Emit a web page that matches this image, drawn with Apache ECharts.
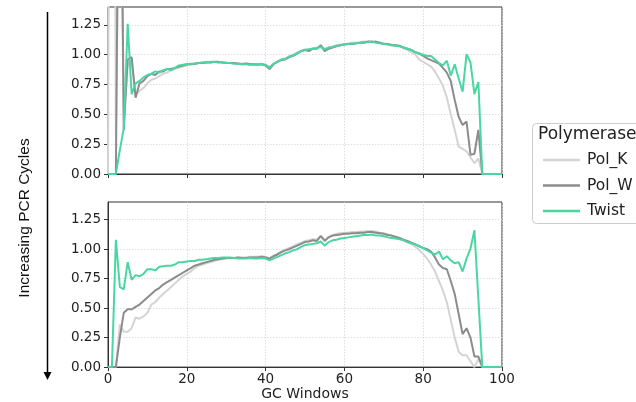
<!DOCTYPE html>
<html><head><meta charset="utf-8">
<script src="https://cdn.jsdelivr.net/npm/echarts@6/dist/echarts.min.js"></script>
<style>html,body{margin:0;padding:0;background:#fff}#c{width:636px;height:402px}</style>
</head><body><div id="c"></div>
<script>
// GC window positions 0..100 (one value per window)
const gcWindows = [0,1,2,3,4,5,6,7,8,9,10,11,12,13,14,15,16,17,18,19,20,21,22,23,24,25,26,27,28,29,30,31,32,33,34,35,36,37,38,39,40,41,42,43,44,45,46,47,48,49,50,51,52,53,54,55,56,57,58,59,60,61,62,63,64,65,66,67,68,69,70,71,72,73,74,75,76,77,78,79,80,81,82,83,84,85,86,87,88,89,90,91,92,93,94,95,96,97,98,99,100];
const xTicks = [0,20,40,60,80,100];
const yTicks = [0,0.25,0.5,0.75,1.0,1.25];
const seriesNames = ['Pol_K','Pol_W','Twist'];

// Top panel (fewer PCR cycles)
const topPolK = [0,9,0.3,3,0.45,0.92,0.95,0.66,0.70,0.72,
 0.76,0.79,0.80,0.82,0.84,0.85,0.87,0.88,0.89,0.90,
 0.91,0.92,0.925,0.93,0.935,0.94,0.935,0.94,0.935,0.94,
 0.935,0.93,0.93,0.93,0.925,0.93,0.925,0.92,0.92,0.925,
 0.915,0.90,0.92,0.945,0.96,0.97,0.985,1.00,1.02,1.035,
 1.045,1.04,1.055,1.06,1.07,1.05,1.06,1.07,1.08,1.085,
 1.09,1.095,1.10,1.10,1.105,1.11,1.11,1.115,1.105,1.10,
 1.095,1.09,1.085,1.075,1.07,1.055,1.04,1.02,1.00,0.96,
 0.94,0.92,0.90,0.86,0.80,0.74,0.64,0.50,0.37,0.23,
 0.21,0.19,0.14,0.09,0.13,0,0,0,0,0,0];
const topPolW = [0,0,0,4.0,0.37,0.96,0.98,0.64,0.76,0.78,
 0.82,0.84,0.83,0.86,0.86,0.88,0.88,0.89,0.90,0.91,
 0.92,0.92,0.925,0.93,0.93,0.935,0.935,0.94,0.94,0.935,
 0.93,0.93,0.93,0.925,0.92,0.925,0.92,0.92,0.915,0.92,
 0.91,0.88,0.92,0.94,0.955,0.96,0.98,0.99,1.01,1.03,
 1.04,1.03,1.05,1.05,1.08,1.03,1.05,1.06,1.07,1.08,
 1.085,1.09,1.09,1.095,1.10,1.10,1.11,1.105,1.11,1.10,
 1.09,1.09,1.08,1.08,1.075,1.06,1.05,1.04,1.02,1.01,
 0.99,0.97,0.955,0.94,0.925,0.89,0.85,0.78,0.62,0.48,
 0.41,0.44,0.16,0.17,0.37,0,0,0,0,0,0];
const topTwist = [0,0,0,0.2,0.38,1.26,0.67,0.76,0.78,0.81,
 0.83,0.84,0.86,0.85,0.87,0.88,0.87,0.89,0.91,0.915,
 0.92,0.925,0.925,0.93,0.935,0.935,0.94,0.94,0.935,0.935,
 0.93,0.93,0.925,0.925,0.92,0.92,0.915,0.915,0.92,0.92,
 0.915,0.89,0.925,0.94,0.96,0.965,0.985,0.995,1.01,1.03,
 1.04,1.045,1.05,1.055,1.065,1.045,1.06,1.065,1.075,1.08,
 1.085,1.09,1.095,1.095,1.10,1.105,1.105,1.11,1.10,1.095,
 1.09,1.085,1.08,1.075,1.07,1.06,1.05,1.04,1.02,1.01,
 1.00,0.99,0.99,0.96,0.93,0.91,0.95,0.825,0.92,0.80,
 0.69,1.005,0.935,0.67,0.77,0,0,0,0,0,0];

// Bottom panel (more PCR cycles)
const botPolK = [0,0,0,0.36,0.30,0.30,0.33,0.42,0.41,0.43,
 0.46,0.53,0.55,0.59,0.62,0.65,0.68,0.71,0.74,0.77,
 0.79,0.81,0.84,0.86,0.87,0.88,0.89,0.90,0.91,0.915,
 0.92,0.925,0.925,0.93,0.93,0.93,0.935,0.935,0.935,0.94,
 0.935,0.925,0.945,0.96,0.98,0.995,1.01,1.025,1.04,1.055,
 1.07,1.075,1.085,1.08,1.115,1.08,1.105,1.12,1.13,1.135,
 1.14,1.14,1.145,1.145,1.15,1.15,1.155,1.155,1.15,1.14,
 1.135,1.125,1.115,1.10,1.09,1.075,1.06,1.045,1.02,0.99,
 0.96,0.92,0.87,0.81,0.73,0.65,0.55,0.40,0.25,0.13,
 0.10,0.10,0.05,0.0,0.07,0,0,0,0,0,0];
const botPolW = [0,0,0,0.25,0.46,0.49,0.49,0.51,0.53,0.56,
 0.59,0.62,0.65,0.67,0.70,0.72,0.74,0.76,0.78,0.80,
 0.82,0.84,0.86,0.87,0.88,0.89,0.90,0.91,0.915,0.92,
 0.925,0.925,0.925,0.93,0.925,0.925,0.93,0.93,0.93,0.935,
 0.93,0.92,0.94,0.955,0.975,0.99,1.00,1.015,1.03,1.045,
 1.06,1.065,1.075,1.07,1.11,1.07,1.10,1.115,1.12,1.125,
 1.13,1.13,1.135,1.135,1.14,1.14,1.145,1.145,1.14,1.135,
 1.13,1.12,1.115,1.105,1.095,1.08,1.07,1.055,1.04,1.025,
 1.01,1.00,0.98,0.93,0.87,0.84,0.83,0.73,0.62,0.45,
 0.28,0.33,0.25,0.09,0.09,0,0,0,0,0,0];
const botTwist = [0,0,1.08,0.68,0.66,0.89,0.74,0.78,0.77,0.79,
 0.83,0.83,0.82,0.85,0.855,0.86,0.86,0.87,0.89,0.89,
 0.895,0.90,0.90,0.91,0.91,0.915,0.92,0.925,0.925,0.93,
 0.93,0.93,0.925,0.92,0.92,0.92,0.925,0.92,0.92,0.925,
 0.92,0.905,0.92,0.935,0.95,0.965,0.975,0.99,1.00,1.02,
 1.035,1.04,1.045,1.05,1.065,1.03,1.06,1.075,1.08,1.09,
 1.095,1.10,1.105,1.11,1.115,1.12,1.12,1.125,1.115,1.115,
 1.11,1.10,1.095,1.09,1.085,1.075,1.06,1.05,1.04,1.025,
 1.01,0.99,0.97,0.955,0.98,0.915,0.94,0.905,0.88,0.89,
 0.81,0.92,1.005,1.16,0.58,0,0,0,0,0,0];

const colors = {Pol_K:'#d4d4d4', Pol_W:'#8c8c8c', Twist:'#4ad6a3'};
const tickFont = {fontFamily:'DejaVu Sans', fontSize:13.5, color:'#222'};

function pairs(arr){ return gcWindows.map((x,i)=>[x, arr[i]]); }

function xAxisCfg(idx, showLabels){
  return {
    type:'value', gridIndex:idx, min:0, max:100, interval:20,
    axisLine:{show:true, lineStyle:{color:'#333', width:1}},
    axisTick:{show:true, length:4, lineStyle:{color:'#333'}},
    axisLabel: Object.assign({show:showLabels, margin:5, formatter:v=>String(v)}, tickFont),
    splitLine:{show:true, lineStyle:{color:'#d6d6d6', type:[1.5,1.5], width:0.8}},
    name: showLabels ? 'GC Windows' : '', nameLocation:'middle', nameGap:19,
    nameTextStyle:{fontFamily:'DejaVu Sans', fontSize:14, color:'#222'}
  };
}
function yAxisCfg(idx){
  return {
    type:'value', gridIndex:idx, min:0, max:1.4, interval:0.25,
    axisLine:{show:true, lineStyle:{color:'#333', width:1}},
    axisTick:{show:true, length:4, lineStyle:{color:'#333'}, customValues:yTicks},
    axisLabel: Object.assign({margin:7, customValues:yTicks, formatter:v=>v.toFixed(2)}, tickFont),
    splitLine:{show:true, lineStyle:{color:'#d6d6d6', type:[1.5,1.5], width:0.8}}
  };
}
function lineSeries(name, arr, idx){
  return {
    name, type:'line', xAxisIndex:idx, yAxisIndex:idx, data:pairs(arr),
    symbol:'none', showSymbol:false, clip:true, animation:false,
    lineStyle:{color:colors[name], width:2}, itemStyle:{color:colors[name]}
  };
}

const chart = echarts.init(document.getElementById('c'), null, {renderer:'canvas'});
chart.setOption({
  animation:false,
  backgroundColor:'#fff',
  grid:[
    {left:108, top:7, width:394, height:167, show:true, borderColor:'#333', borderWidth:1, backgroundColor:'transparent'},
    {left:108, top:202, width:394, height:167, show:true, borderColor:'#333', borderWidth:1, backgroundColor:'transparent'}
  ],
  xAxis:[xAxisCfg(0,false), xAxisCfg(1,true)],
  yAxis:[yAxisCfg(0), yAxisCfg(1)],
  legend:{
    orient:'vertical', left:538, top:147, itemWidth:37, itemHeight:2.5, itemGap:9.5,
    data:seriesNames, icon:'rect',
    textStyle:{fontFamily:'DejaVu Sans', fontSize:15.5, color:'#222', padding:[0,0,0,2]}
  },
  graphic:[
    {type:'rect', z:1, shape:{x:532.5, y:123.5, width:130, height:100, r:4},
     style:{fill:'rgba(255,255,255,0.85)', stroke:'#cccccc', lineWidth:1}},
    {type:'text', z:2, x:538, y:135, style:{text:'Polymerase', fontFamily:'DejaVu Sans', fontSize:17, fill:'#222', verticalAlign:'middle'}},
    {type:'line', shape:{x1:47.5, y1:12, x2:47.5, y2:373}, style:{stroke:'#000', lineWidth:1.5}},
    {type:'polygon', shape:{points:[[43.5,372],[51.5,372],[47.5,380]]}, style:{fill:'#000'}},
    {type:'text', x:25, y:218, rotation:Math.PI/2,
     style:{text:'Increasing PCR Cycles', fontFamily:'Liberation Sans', fontSize:15.5, fill:'#111', align:'center', verticalAlign:'middle'}}
  ],
  series:[
    lineSeries('Pol_K', topPolK, 0), lineSeries('Pol_W', topPolW, 0), lineSeries('Twist', topTwist, 0),
    lineSeries('Pol_K', botPolK, 1), lineSeries('Pol_W', botPolW, 1), lineSeries('Twist', botTwist, 1)
  ]
});
</script>
</body></html>
